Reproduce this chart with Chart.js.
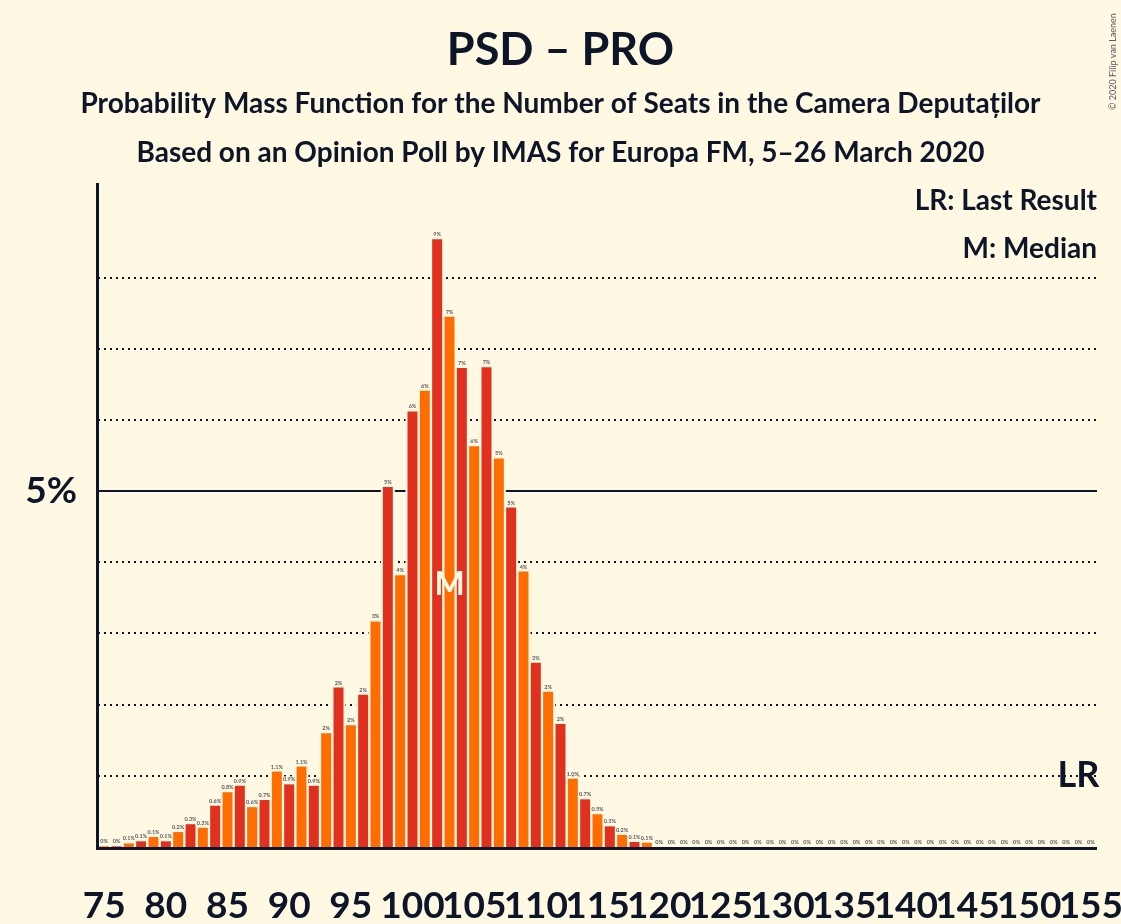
<!DOCTYPE html>
<html>
<head>
<meta charset="utf-8">
<title>PSD – PRO</title>
<script src="https://cdn.jsdelivr.net/npm/chart.js@4.4.0/dist/chart.umd.min.js"></script>
<style>
  html, body { margin: 0; padding: 0; background: #fff8e2; }
  #wrap { width: 1121px; height: 924px; }
</style>
</head>
<body>
<div id="wrap"><canvas id="pmf" width="1121" height="924"></canvas></div>
<script>
// seats 75..155
const seats = [];
for (let s = 75; s <= 155; s++) seats.push(s);

// probability of each seat count, in percent
const probabilities = [
  0.01, 0.01, 0.05, 0.08, 0.14, 0.08, 0.21, 0.32, 0.27, 0.58, // 75-84
  0.77, 0.86, 0.56, 0.66, 1.06, 0.88, 1.13, 0.86, 1.6, 2.24,  // 85-94
  1.71, 2.14, 3.17, 5.06, 3.82, 6.12, 6.41, 8.54, 7.45, 6.73, // 95-104
  5.63, 6.74, 5.46, 4.77, 3.87, 2.59, 2.18, 1.73, 0.96, 0.67, // 105-114
  0.46, 0.29, 0.17, 0.07, 0.06, 0, 0, 0, 0, 0,                // 115-124
  0, 0, 0, 0, 0, 0, 0, 0, 0, 0,                               // 125-134
  0, 0, 0, 0, 0, 0, 0, 0, 0, 0,                               // 135-144
  0, 0, 0, 0, 0, 0, 0, 0, 0, 0,                               // 145-154
  0,                                                          // 155
];

const xTickLabels = [75, 80, 85, 90, 95, 100, 105, 110, 115, 120, 125, 130, 135, 140, 145, 150, 155];
const yTickLabels = [5];
const gridValues = [1, 2, 3, 4, 5, 6, 7, 8];
const medianSeat = 103;
const lastResultSeat = 154;

const bg = "#fff8e2";
const ink = "#0c1628";
const red = "#e0301e";
const orange = "#ff6c00";
const family = "Lato";

function barLabel(v) {
  if (v < 0.05) return "0%";
  if (v >= 1.5) return Math.round(v) + "%";
  return v.toFixed(1) + "%";
}

const decor = {
  id: "decor",
  beforeDraw(chart) {
    const { ctx, width, height } = chart;
    ctx.save();
    ctx.fillStyle = bg;
    ctx.fillRect(0, 0, width, height);
    ctx.restore();
  },
  beforeDatasetsDraw(chart) {
    const { ctx, chartArea: a, scales: { y } } = chart;
    ctx.save();
    ctx.strokeStyle = ink;
    ctx.lineWidth = 2;
    gridValues.forEach((v) => {
      const py = Math.round(y.getPixelForValue(v));
      ctx.setLineDash(v === 5 ? [] : [2, 4]);
      ctx.beginPath();
      ctx.moveTo(a.left, py);
      ctx.lineTo(a.right, py);
      ctx.stroke();
    });
    // cream margin round the bars, hides the grid next to them
    ctx.setLineDash([]);
    ctx.fillStyle = bg;
    chart.getDatasetMeta(0).data.forEach((bar) => {
      const h = bar.base - bar.y;
      if (h < 1) return;
      ctx.fillRect(bar.x - bar.width / 2 - 2, bar.y - 2, bar.width + 4, h);
    });
    ctx.restore();
  },
  afterDatasetsDraw(chart) {
    const { ctx, chartArea: a, scales: { x, y } } = chart;
    ctx.save();

    // value labels above the bars
    ctx.font = `bold 5.5px ${family}`;
    ctx.textAlign = "center";
    ctx.textBaseline = "alphabetic";
    chart.getDatasetMeta(0).data.forEach((bar, i) => {
      const txt = barLabel(probabilities[i]);
      const w = ctx.measureText(txt).width;
      const by = Math.min(bar.y, bar.base) - 3;
      ctx.fillStyle = bg;
      ctx.fillRect(bar.x - w / 2 - 1, by - 5, w + 2, 6);
      ctx.fillStyle = "#555a60";
      ctx.fillText(txt, bar.x, by);
    });

    // axes
    ctx.strokeStyle = ink;
    ctx.lineWidth = 3;
    ctx.beginPath();
    ctx.moveTo(a.left - 0.5, a.top);
    ctx.lineTo(a.left - 0.5, a.bottom + 1.5);
    ctx.lineTo(a.right, a.bottom + 1.5);
    ctx.stroke();

    // median marker
    ctx.fillStyle = bg;
    ctx.font = `bold 32px ${family}`;
    ctx.textBaseline = "middle";
    ctx.fillText("M", x.getPixelForValue(seats.indexOf(medianSeat)), y.getPixelForValue(3.68));

    // last result marker
    ctx.fillStyle = ink;
    ctx.font = `bold 36px ${family}`;
    ctx.fillText("LR", x.getPixelForValue(seats.indexOf(lastResultSeat)), y.getPixelForValue(1.0));
    ctx.restore();
  },
  afterDraw(chart) {
    const { ctx, width } = chart;
    ctx.save();
    ctx.fillStyle = ink;
    ctx.textAlign = "center";
    ctx.textBaseline = "alphabetic";
    ctx.font = `bold 45px ${family}`;
    ctx.fillText("PSD – PRO", width / 2, 65);
    ctx.font = `bold 28px ${family}`;
    ctx.fillText("Probability Mass Function for the Number of Seats in the Camera Deputaților", width / 2, 113);
    ctx.fillText("Based on an Opinion Poll by IMAS for Europa FM, 5–26 March 2020", width / 2, 162);

    ctx.textAlign = "right";
    ctx.fillText("LR: Last Result", 1097, 210);
    ctx.fillText("M: Median", 1097, 258);

    // copyright, vertical
    ctx.translate(1116, 110);
    ctx.rotate(-Math.PI / 2);
    ctx.textAlign = "left";
    ctx.fillStyle = "#555a60";
    ctx.font = `9px ${family}`;
    ctx.fillText("© 2020 Filip van Laenen", 0, 0);
    ctx.restore();
  },
};

const ctx = document.getElementById("pmf").getContext("2d");
new Chart(ctx, {
  type: "bar",
  data: {
    labels: seats,
    datasets: [
      {
        data: probabilities,
        backgroundColor: seats.map((s) => (s % 2 === 0 ? red : orange)),
        borderWidth: 0,
        barPercentage: 0.81,
        categoryPercentage: 1,
      },
    ],
  },
  options: {
    responsive: false,
    animation: false,
    devicePixelRatio: 1,
    layout: { padding: { top: 183, right: 24, left: 0, bottom: 0 } },
    scales: {
      x: {
        grid: { display: false, drawTicks: false },
        border: { display: false },
        ticks: {
          autoSkip: false,
          maxRotation: 0,
          minRotation: 0,
          padding: 37,
          color: ink,
          font: { family, size: 37, weight: "bold" },
          callback: (val, i) => (xTickLabels.includes(seats[i]) ? String(seats[i]) : ""),
        },
        afterFit: (scale) => {
          scale.height = 77;
          scale.paddingLeft = 0;
          scale.paddingRight = 0;
        },
      },
      y: {
        min: 0,
        max: 9.33,
        grid: { display: false, drawTicks: false },
        border: { display: false },
        ticks: {
          stepSize: 1,
          padding: 21,
          color: ink,
          font: { family, size: 37, weight: "bold" },
          callback: (v) => (yTickLabels.includes(v) ? v + "%" : ""),
        },
        afterFit: (scale) => {
          scale.width = 98;
          scale.paddingTop = 0;
          scale.paddingBottom = 0;
        },
      },
    },
    plugins: {
      legend: { display: false },
      tooltip: { enabled: false },
    },
  },
  plugins: [decor],
});
</script>
</body>
</html>
